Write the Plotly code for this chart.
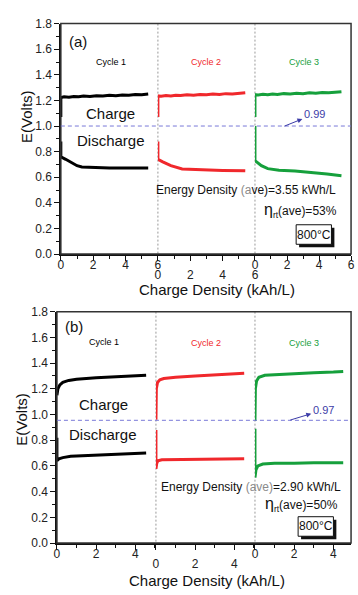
import plotly.graph_objects as go

W, H = 358, 595
def px(x): return x / W
def py(y): return 1 - y / H

BLACK, RED, GREEN = "#000000", "#f0282c", "#16a03c"
BLUE = "#3c3ca8"
FONT = "Liberation Sans, Arial, sans-serif"

# ---------------- data: panel (a) ----------------
a1_ch_x = [0, 0, 0.2, 0.5, 0.8, 1.1, 1.4, 1.8, 2.2, 2.6, 3.0, 3.4, 3.8, 4.2, 4.6, 5.0, 5.4]
a1_ch_y = [1.07, 1.222, 1.228, 1.224, 1.231, 1.228, 1.234, 1.231, 1.237, 1.234, 1.24, 1.237, 1.243, 1.241, 1.247, 1.244, 1.25]
a1_dis_x = [0, 0, 0.3, 0.7, 1.0, 1.3, 2.0, 3.0, 4.0, 5.4]
a1_dis_y = [0.88, 0.76, 0.74, 0.71, 0.69, 0.68, 0.675, 0.673, 0.672, 0.672]

a2_ch_x = [0, 0, 0.2, 0.5, 0.8, 1.1, 1.4, 1.8, 2.2, 2.6, 3.0, 3.4, 3.8, 4.2, 4.6, 5.0, 5.4]
a2_ch_y = [1.07, 1.235, 1.232, 1.238, 1.235, 1.241, 1.238, 1.244, 1.241, 1.247, 1.244, 1.25, 1.247, 1.253, 1.251, 1.257, 1.26]
a2_dis_x = [0, 0, 0.3, 0.8, 1.5, 2.2, 3.0, 4.0, 5.4]
a2_dis_y = [0.88, 0.74, 0.72, 0.69, 0.665, 0.66, 0.655, 0.653, 0.65]

a3_ch_x = [0, 0, 0.2, 0.5, 0.8, 1.1, 1.4, 1.8, 2.2, 2.6, 3.0, 3.4, 3.8, 4.2, 4.6, 5.0, 5.4]
a3_ch_y = [1.07, 1.245, 1.242, 1.248, 1.245, 1.25, 1.247, 1.253, 1.25, 1.256, 1.253, 1.259, 1.256, 1.262, 1.26, 1.266, 1.268]
a3_dis_x = [0, 0, 0.1, 0.4, 0.8, 1.5, 2.5, 3.5, 4.5, 5.4]
a3_dis_y = [1.0, 0.73, 0.72, 0.69, 0.667, 0.655, 0.648, 0.638, 0.625, 0.612]

# ---------------- data: panel (b) ----------------
b1_ch_x = [0, 0.05, 0.15, 0.3, 0.6, 1.0, 2.0, 3.0, 4.0, 4.55]
b1_ch_y = [1.15, 1.2, 1.23, 1.25, 1.265, 1.275, 1.285, 1.295, 1.30, 1.305]
b1_dis_x = [0, 0, 0.1, 0.3, 0.7, 1.5, 2.5, 3.5, 4.55]
b1_dis_y = [0.82, 0.64, 0.655, 0.665, 0.675, 0.68, 0.685, 0.69, 0.70]

b2_ch_x = [0, 0.02, 0.08, 0.2, 0.4, 1.0, 2.0, 3.0, 4.0, 4.5]
b2_ch_y = [0.96, 1.2, 1.25, 1.27, 1.28, 1.29, 1.30, 1.31, 1.315, 1.32]
b2_dis_x = [0, 0, 0.04, 0.1, 0.3, 1.0, 2.0, 3.0, 4.5]
b2_dis_y = [0.88, 0.577, 0.62, 0.64, 0.648, 0.65, 0.65, 0.652, 0.655]

b3_ch_x = [0, 0.02, 0.08, 0.2, 0.5, 1.0, 2.0, 3.0, 4.0, 4.5]
b3_ch_y = [0.95, 1.2, 1.26, 1.29, 1.305, 1.31, 1.32, 1.325, 1.33, 1.335]
b3_dis_x = [0, 0, 0.05, 0.15, 0.4, 1.0, 2.0, 3.0, 4.5]
b3_dis_y = [0.89, 0.51, 0.57, 0.60, 0.615, 0.62, 0.62, 0.625, 0.625]

y_ticks = [0.0, 0.2, 0.4, 0.6, 0.8, 1.0, 1.2, 1.4, 1.6, 1.8]
xa_ticks = [0, 2, 4, 6]
xb_ticks = [0, 2, 4]

fig = go.Figure()

def add(x, y, color, xa, ya):
    fig.add_trace(go.Scatter(x=x, y=y, mode="lines", line=dict(color=color, width=3),
                             xaxis=xa, yaxis=ya, showlegend=False, hoverinfo="skip"))

add(a1_ch_x, a1_ch_y, BLACK, "x", "y"); add(a1_dis_x, a1_dis_y, BLACK, "x", "y")
add(a2_ch_x, a2_ch_y, RED, "x2", "y"); add(a2_dis_x, a2_dis_y, RED, "x2", "y")
add(a3_ch_x, a3_ch_y, GREEN, "x3", "y"); add(a3_dis_x, a3_dis_y, GREEN, "x3", "y")
add(b1_ch_x, b1_ch_y, BLACK, "x4", "y2"); add(b1_dis_x, b1_dis_y, BLACK, "x4", "y2")
add(b2_ch_x, b2_ch_y, RED, "x5", "y2"); add(b2_dis_x, b2_dis_y, RED, "x5", "y2")
add(b3_ch_x, b3_ch_y, GREEN, "x6", "y2"); add(b3_dis_x, b3_dis_y, GREEN, "x6", "y2")

tickfont = dict(family=FONT, size=12, color="#222")

def xaxis(dom, anchor, rng, ticks, standoff):
    return dict(domain=dom, anchor=anchor, range=rng, tickvals=ticks, ticktext=[str(t) for t in ticks],
                showline=True, linecolor="#111", linewidth=1.5, ticks="outside", ticklen=5,
                tickcolor="#111", tickwidth=1, showgrid=False, zeroline=False, tickfont=tickfont,
                minor=dict(dtick=1, tick0=0, ticks="outside", ticklen=3, tickcolor="#111", showgrid=False),
                ticklabelstandoff=standoff, fixedrange=True)

def yaxis(dom, anchor):
    return dict(domain=dom, anchor=anchor, range=[0, 1.8], tickvals=y_ticks,
                ticktext=[f"{v:.1f}" for v in y_ticks],
                showline=True, linecolor="#111", linewidth=1.5, ticks="outside", ticklen=5,
                tickcolor="#111", showgrid=False, zeroline=False, tickfont=tickfont,
                minor=dict(dtick=0.1, tick0=0, ticks="outside", ticklen=3, tickcolor="#111", showgrid=False),
                fixedrange=True)

ya_dom = [py(253), py(17)]
yb_dom = [py(549), py(312)]

UP, LOW = -6, 4
fig.update_layout(
    width=W, height=H, margin=dict(l=0, r=0, t=0, b=0),
    paper_bgcolor="white", plot_bgcolor="rgba(0,0,0,0)",
    xaxis=xaxis([px(59), px(158)], "y", [0, 6], xa_ticks, UP),
    xaxis2=xaxis([px(158), px(257)], "y", [0, 6], xa_ticks, LOW),
    xaxis3=xaxis([px(257), px(355)], "y", [0, 6], xa_ticks, UP),
    xaxis4=xaxis([px(55), px(156)], "y2", [0, 5.05], xb_ticks, UP),
    xaxis5=xaxis([px(156), px(257)], "y2", [0, 5.05], xb_ticks, LOW),
    xaxis6=xaxis([px(257), px(355)], "y2", [0, 4.9], xb_ticks, UP),
    yaxis=yaxis(ya_dom, "x"),
    yaxis2=yaxis(yb_dom, "x4"),
)

shapes = []
# frames
shapes.append(dict(type="rect", xref="paper", yref="paper", x0=px(59), x1=px(355), y0=py(253), y1=py(17),
                   line=dict(color="#333", width=1.5), layer="above"))
shapes.append(dict(type="rect", xref="paper", yref="paper", x0=px(55), x1=px(355), y0=py(549), y1=py(312),
                   line=dict(color="#333", width=1.5), layer="above"))
# vertical dividers
for x, (t, b) in [(158, (17, 253)), (257, (17, 253)), (156, (312, 549)), (257, (312, 549))]:
    shapes.append(dict(type="line", xref="paper", yref="paper", x0=px(x), x1=px(x), y0=py(t), y1=py(b),
                       line=dict(color="#999", width=1, dash="2px,2px"), layer="below"))
# horizontal dashed reference lines
shapes.append(dict(type="line", xref="paper", yref="y", x0=px(59), x1=px(355), y0=1.0, y1=1.0,
                   line=dict(color="#7878d8", width=1, dash="4px,3px")))
shapes.append(dict(type="line", xref="paper", yref="y2", x0=px(55), x1=px(355), y0=0.955, y1=0.955,
                   line=dict(color="#7878d8", width=1, dash="4px,3px")))
# temperature boxes with shadow
for (x0, y0, x1, y1) in [(299, 223, 335, 243), (301, 522, 337, 542)]:
    shapes.append(dict(type="rect", xref="paper", yref="paper", x0=px(x0 + 3), x1=px(x1 + 3),
                       y0=py(y1 + 3), y1=py(y0 + 3), fillcolor="#111", line=dict(width=0), layer="above"))
    shapes.append(dict(type="rect", xref="paper", yref="paper", x0=px(x0), x1=px(x1),
                       y0=py(y1), y1=py(y0), fillcolor="white", line=dict(color="#111", width=1), layer="above"))
fig.update_layout(shapes=shapes)

ann = []
def text(x, y, s, size=12, color="#111", xanchor="center", angle=0):
    ann.append(dict(x=px(x), y=py(y), xref="paper", yref="paper", text=s, showarrow=False,
                    xanchor=xanchor, yanchor="middle", textangle=angle,
                    font=dict(family=FONT, size=size, color=color)))

# panel (a)
text(77, 35, "(a)", 15)
text(110, 56, "Cycle 1", 9, BLACK); text(207, 56, "Cycle 2", 9, RED); text(307, 56, "Cycle 3", 9, GREEN)
text(110, 109, "Charge", 15); text(110, 137, "Discharge", 15)
text(342, 187, "Energy Density <span style='color:#8a8a8a'>(a</span>ve)=3.55 kWh/L", 12, xanchor="right")
text(343, 208, "<span style='font-size:16px'>η</span><sub>rt</sub>(ave)=53%", 12, xanchor="right")
text(317, 233, "800°C", 12)
text(218, 289, "Charge Density (kAh/L)", 15)
text(24, 112, "E(Volts)", 15, angle=-90)
# panel (b)
text(72, 327, "(b)", 15)
text(103, 343, "Cycle 1", 9, BLACK); text(207, 344, "Cycle 2", 9, RED); text(307, 344, "Cycle 3", 9, GREEN)
text(102, 407, "Charge", 15); text(102, 438, "Discharge", 15)
text(347, 492, "Energy Density <span style='color:#8a8a8a'>(ave)</span>=2.90 kWh/L", 12, xanchor="right")
text(344, 509, "<span style='font-size:16px'>η</span><sub>rt</sub>(ave)=50%", 12, xanchor="right")
text(319, 532, "800°C", 12)
text(208, 587, "Charge Density (kAh/L)", 15)
text(18, 422, "E(Volts)", 15, angle=-90)

# efficiency arrows
for (tx, ty, lbl, hx, hy) in [(287, 122, "0.99", 317, 110), (293, 423, "0.97", 326, 413)]:
    ann.append(dict(x=px(tx), y=py(ty), xref="paper", yref="paper", text=lbl, showarrow=True,
                    ax=hx - tx, ay=hy - ty, arrowside="start", startarrowhead=2, startarrowsize=1,
                    arrowwidth=1, arrowcolor=BLUE, font=dict(family=FONT, size=11, color=BLUE)))
fig.update_layout(annotations=ann)

fig.write_html("out.html", config={"displayModeBar": False, "staticPlot": True},
               post_script="document.body.style.margin='0';document.body.style.overflow='hidden';")
